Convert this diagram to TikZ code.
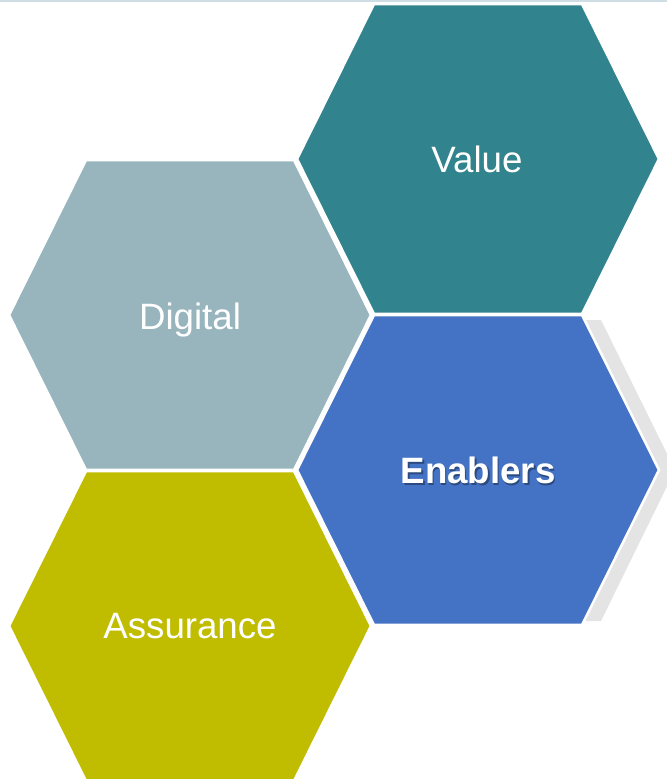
\documentclass[tikz,border=0pt]{standalone}
\usepackage{fontspec}
\setmainfont{Liberation Sans}
\definecolor{cValue}{HTML}{31838E}
\definecolor{cDigital}{HTML}{98B5BE}
\definecolor{cEnablers}{HTML}{4472C4}
\definecolor{cAssurance}{HTML}{C0BC00}
\definecolor{cShadow}{HTML}{E4E4E4}
\definecolor{cTopline}{HTML}{CFDDE4}
\newcommand{\hexpathat}[2]{(#1-181,#2) -- (#1-104,#2-155) -- (#1+104,#2-155) -- (#1+181,#2) -- (#1+104,#2+155) -- (#1-104,#2+155) -- cycle}
\begin{document}
\begin{tikzpicture}[x=0.75pt,y=-0.75pt,
  hexfill/.style={draw=white,line width=1.9pt,line join=miter},
  hexlabel/.style={text=white,font=\fontsize{27.5}{30}\selectfont,anchor=base,inner sep=0pt},
  boldlabel/.style={hexlabel,font=\fontsize{27.5}{30}\selectfont\bfseries}]
\useasboundingbox (0,0) rectangle (667,779);
\clip (0,0) rectangle (667,779);
\fill[white] (0,0) rectangle (667,779);
\fill[cTopline] (0,0) rectangle (667,2);
% shadow of Enablers
\fill[cShadow] (393,320) -- (601,320) -- (675,470) -- (601,621) -- (393,621) -- (318,470) -- cycle;
% hexagons
\path[hexfill,fill=cValue] \hexpathat{478}{159};
\path[hexfill,fill=cDigital] \hexpathat{190}{315};
\path[hexfill,fill=cEnablers] \hexpathat{478}{470};
\path[hexfill,fill=cAssurance] \hexpathat{190}{626};
% labels
\node[hexlabel] (value) at (477,172.5) {Value};
\node[hexlabel] (digital) at (190,329) {Digital};
\node[boldlabel,text=black,opacity=0.35] at (479.5,485.5) {Enablers};
\node[boldlabel] (enablers) at (478,483.5) {Enablers};
\node[hexlabel] (assurance) at (190,638.5) {Assurance};
\end{tikzpicture}
\end{document}
